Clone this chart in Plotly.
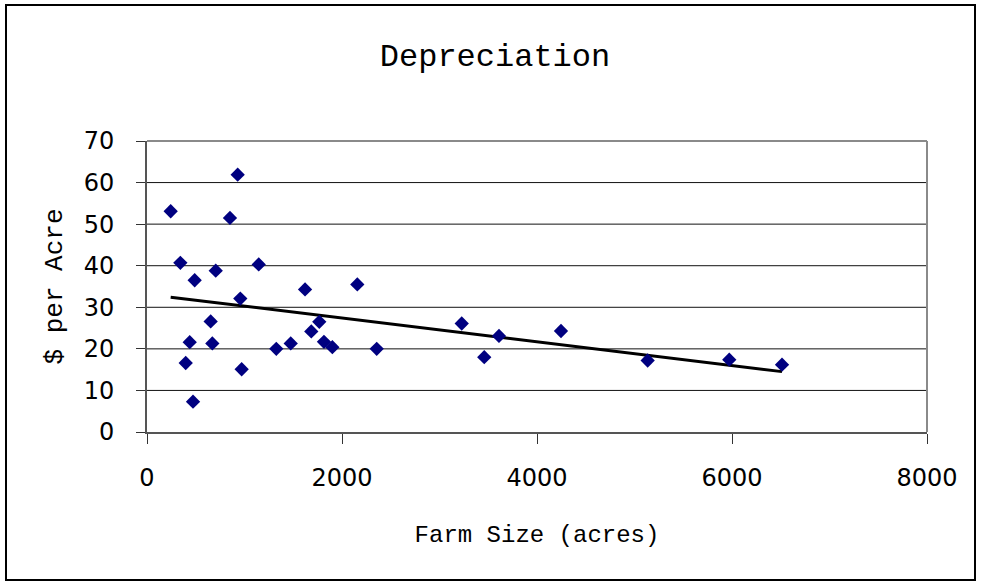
import numpy as np
import plotly.graph_objects as go

# Data
farm_size = [243, 930, 851, 342, 489, 705, 1146, 957, 1621, 2157,
             653, 438, 670, 397, 971, 472, 1326, 1474, 1767, 1685,
             1815, 1901, 2356, 3228, 3459, 3610, 4246, 5135, 5972, 6513]
per_acre = [53.1, 61.9, 51.5, 40.7, 36.5, 38.8, 40.3, 32.1, 34.3, 35.5,
            26.6, 21.6, 21.3, 16.6, 15.1, 7.3, 20.0, 21.3, 26.5, 24.2,
            21.7, 20.4, 20.0, 26.1, 18.0, 23.1, 24.3, 17.2, 17.4, 16.2]
x_ticks = [0, 2000, 4000, 6000, 8000]
y_ticks = [0, 10, 20, 30, 40, 50, 60, 70]

# Linear trendline (least squares), spanning the data range
slope, intercept = np.polyfit(farm_size, per_acre, 1)
tx = [min(farm_size), max(farm_size)]
ty = [slope * v + intercept for v in tx]

W, H = 981, 582
L, R, T, B = 147, 54, 141, 150
pw, ph = W - L - R, H - T - B

def px2paper_x(px):
    return (px - L) / pw

def py2paper_y(py):
    return (H - B - py) / ph

fig = go.Figure()
fig.add_trace(go.Scatter(
    x=tx, y=ty, mode="lines",
    line=dict(color="black", width=3),
    hoverinfo="skip", showlegend=False))
fig.add_trace(go.Scatter(
    x=farm_size, y=per_acre, mode="markers",
    marker=dict(symbol="diamond", size=11, color="#000080",
                line=dict(width=0)),
    showlegend=False))

# gridlines drawn as horizontal lines
for v in y_ticks[1:-1]:
    fig.add_shape(type="line", xref="paper", yref="y", x0=0, x1=1, y0=v, y1=v,
                  line=dict(color="#111111", width=1), layer="below")

# top and right border of plot area (gray)
fig.add_shape(type="line", xref="paper", yref="paper", x0=0, x1=1, y0=1, y1=1,
              line=dict(color="#8a8a8a", width=2), layer="below")
fig.add_shape(type="line", xref="paper", yref="paper", x0=1, x1=1, y0=0, y1=1,
              line=dict(color="#8a8a8a", width=2), layer="below")

# outer frame
fig.add_shape(type="rect", xref="paper", yref="paper",
              x0=px2paper_x(6), x1=px2paper_x(975),
              y0=py2paper_y(580), y1=py2paper_y(5),
              line=dict(color="black", width=2))

fig.update_layout(
    width=W, height=H,
    margin=dict(l=L, r=R, t=T, b=B),
    paper_bgcolor="white", plot_bgcolor="white",
    title=dict(text="Depreciation", x=495 / W,
               xanchor="center", y=1 - 55 / H, yanchor="middle",
               font=dict(family="Liberation Mono", size=32, color="black")),
    xaxis=dict(range=[0, 8000], tickvals=x_ticks, showgrid=False,
               zeroline=False, showline=True, linecolor="#555555", linewidth=2,
               ticks="outside", ticklen=10, tickcolor="#333333", tickwidth=1,
               tickfont=dict(family="DejaVu Sans", size=24, color="black"),
               ticklabelstandoff=13,
               title=dict(text="Farm Size (acres)", standoff=34,
                          font=dict(family="Liberation Mono", size=24, color="black"))),
    yaxis=dict(range=[0, 70], tickvals=y_ticks, showgrid=False,
               zeroline=False, showline=True, linecolor="#555555", linewidth=2,
               ticks="outside", ticklen=9, tickcolor="#333333", tickwidth=1,
               tickfont=dict(family="DejaVu Sans", size=24, color="black"),
               ticklabelstandoff=17,
               title=dict(text="$ per Acre", standoff=14,
                          font=dict(family="Liberation Mono", size=26, color="black"))),
)

fig.write_html("out.html", config={"displayModeBar": False},
               post_script="document.body.style.margin='0';document.body.style.overflow='hidden';")
